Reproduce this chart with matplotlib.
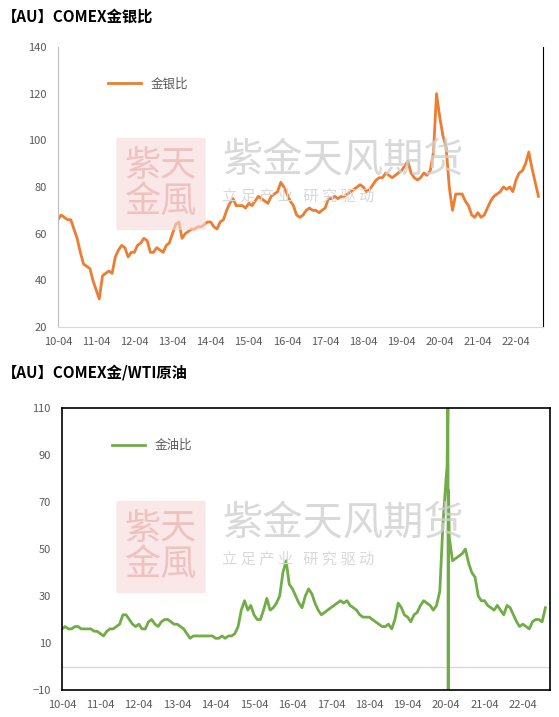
import matplotlib
matplotlib.use("Agg")
import matplotlib.pyplot as plt
import pandas as pd
import numpy as np
from matplotlib.patches import FancyBboxPatch

plt.rcParams['font.family'] = ['Noto Sans CJK SC', 'DejaVu Sans']

start = "2010-04-01"
gold_silver = [66,68,67,66,66,62,58,52,47,
 46,45,40,36,32,42,43,44,43,50,53,55,
 54,50,52,52,55,56,58,57,52,52,54,53,
 52,55,56,60,64,65,58,60,61,62,62,63,
 63,64,65,65,63,62,65,66,70,73,75,72,
 72,72,71,73,72,74,76,75,74,73,76,77,
 78,82,80,77,74,72,68,67,68,70,71,70,
 70,69,70,71,75,75,76,75,76,76,77,78,
 79,80,81,80,78,79,81,83,84,84,86,85,
 84,85,86,87,89,91,86,84,83,84,86,85,
 87,95,120,110,102,97,80,70,77,77,77,74,
 72,68,67,69,67,68,71,74,76,77,78,80,
 79,80,78,83,86,87,90,95,88,82,76]
gold_oil = [16,17,16,16,17,17,16,16,16,
 16,15,15,14,13,15,16,16,17,18,22,22,
 20,18,17,18,16,16,19,20,18,17,19,20,
 20,19,18,18,17,16,14,12,13,13,13,13,
 13,13,13,12,12,13,12,13,13,14,17,24,
 28,24,26,22,20,20,24,29,24,25,27,30,
 40,45,35,33,30,27,25,30,33,31,27,24,
 22,23,24,25,26,27,28,27,28,26,25,24,
 22,21,21,21,20,19,18,17,17,18,16,20,
 27,25,22,21,19,22,23,26,28,27,26,24,
 26,32,60,80,55,45,46,47,48,50,44,40,
 38,30,28,28,26,25,24,26,24,22,26,25,
 22,19,17,18,17,16,19,20,20,19,25]
spike_dates = ["2020-04-10","2020-04-18","2020-04-21","2020-04-24"]
spike_vals = [85,110,-10,75]
xlabels = [f"{y:02d}-04" for y in range(10,23)]

gs = pd.Series(gold_silver, index=pd.date_range(start, periods=len(gold_silver), freq="MS"))
go = pd.Series(gold_oil, index=pd.date_range(start, periods=len(gold_oil), freq="MS"))
go = pd.concat([go, pd.Series(spike_vals, index=pd.to_datetime(spike_dates))]).sort_index()

fig = plt.figure(figsize=(5.59,7.17), dpi=100)
W,H = 559,717
def ax_at(l,t,r,b):
    return fig.add_axes([l/W, 1-b/H, (r-l)/W, (b-t)/H])

ticks = pd.to_datetime([f"20{y[:2]}-04-01" for y in xlabels])
xmin = pd.Timestamp("2010-04-01"); xmax = pd.Timestamp("2022-12-15")

ax1 = ax_at(58,47,543,327)
ax1.plot(gs.index, gs.values, color="#ED7D31", lw=2.0, label="金银比")
ax1.set_ylim(20,140); ax1.set_yticks(range(20,141,20))
ax2 = ax_at(62,408,550,690)
ax2.axhline(0, color="#D9D9D9", lw=1)
ax2.plot(go.index, go.values, color="#70AD47", lw=2.0, label="金油比")
ax2.set_ylim(-10,110); ax2.set_yticks(range(-10,111,20))

for ax in (ax1,ax2):
    ax.set_xlim(xmin,xmax)
    ax.set_xticks(ticks); ax.set_xticklabels(xlabels)
    ax.tick_params(axis="x", length=0, labelsize=8, colors="#595959", pad=7)
    ax.tick_params(axis="y", length=0, labelsize=8, colors="#595959", pad=8)
    ax.legend(loc="upper left", bbox_to_anchor=(0.08,0.93), frameon=False, fontsize=9,
              handlelength=2.6, labelcolor="#595959")
ax1.spines["top"].set_visible(False)
ax1.spines["left"].set_color("#BFBFBF")
ax1.spines["bottom"].set_color("#D9D9D9")
ax1.spines["right"].set_color("black")
for s in ax2.spines.values():
    s.set_color("black"); s.set_linewidth(1.2)

fig.text(2/W, 1-17/H, "【AU】COMEX金银比", fontsize=11, fontweight="bold", va="center")
fig.text(2/W, 1-373/H, "【AU】COMEX金/WTI原油", fontsize=11, fontweight="bold", va="center")

# watermarks
for (lx,ly,tx,ty) in [(118,140,222,160),(118,503,222,523)]:
    box = FancyBboxPatch((lx/W,1-(ly+88)/H),86/W,88/H, boxstyle="round,pad=0.003",
                         transform=fig.transFigure, fc="#F7D9D9", ec="none", alpha=0.6)
    fig.patches.append(box)
    fig.text((lx+43)/W, 1-(ly+44)/H, "紫天\n金風", fontsize=26, color="#E8A8A8", alpha=0.6,
             ha="center", va="center", linespacing=1.0)
    fig.text(tx/W, 1-ty/H, "紫金天风期货", fontsize=29, color="#D0D0D0", alpha=0.8, va="center")
    fig.text(tx/W, 1-(ty+36)/H, "立 足 产 业   研 究 驱 动", fontsize=11, color="#D9D9D9", va="center")

fig.savefig("out.png", dpi=100)
